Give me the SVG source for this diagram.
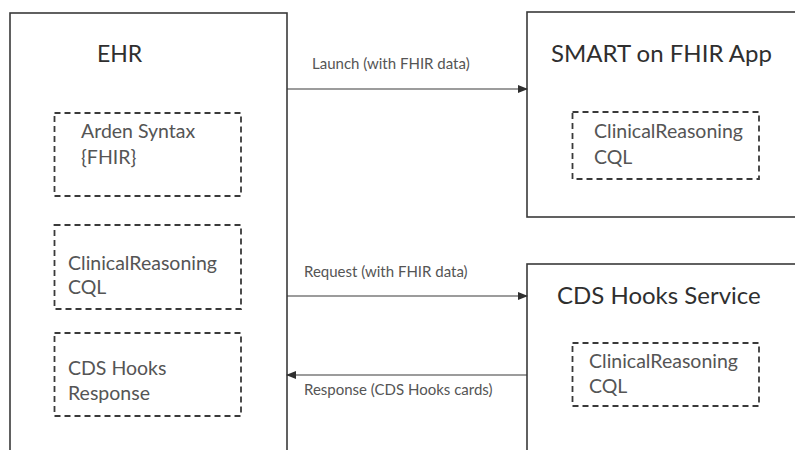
<svg xmlns="http://www.w3.org/2000/svg" width="795" height="450" viewBox="0 0 795 450">
  <style>
    .box { fill: #fff; stroke: #3a3a3a; stroke-width: 1.6; }
    .inner { fill: none; stroke: #3a3a3a; stroke-width: 1.8; stroke-dasharray: 6 4; }
    .title { font-family: Lato, "Open Sans", sans-serif; fill: #2f2f2f; font-size: 24px; }
    .item { font-family: Lato, "Open Sans", sans-serif; fill: #555; font-size: 19.5px; }
    .label { font-family: Lato, "Open Sans", sans-serif; fill: #555; font-size: 15px; }
    .link { stroke: #3a3a3a; stroke-width: 1.2; fill: none; }
  </style>
  <defs>
    <marker id="arrow" markerWidth="10" markerHeight="8" refX="9" refY="4" orient="auto" markerUnits="userSpaceOnUse">
      <path d="M0,0 L10,4 L0,8 Z" fill="#2f2f2f"/>
    </marker>
  </defs>
  <rect width="795" height="450" fill="#fff"/>

  <g id="ehr">
    <rect class="box" x="10" y="13" width="277" height="460"/>
    <text class="title" x="97" y="62" style="font-size:23px">EHR</text>
    <g id="ehr-arden">
      <rect class="inner" x="54.5" y="113" width="186.5" height="83"/>
      <text class="item" x="81" y="138">Arden Syntax</text>
      <text class="item" x="81" y="164">{FHIR}</text>
    </g>
    <g id="ehr-cql">
      <rect class="inner" x="54.5" y="225" width="186.5" height="84"/>
      <text class="item" x="68" y="270">ClinicalReasoning</text>
      <text class="item" x="68" y="294">CQL</text>
    </g>
    <g id="ehr-response">
      <rect class="inner" x="54.5" y="333" width="186.5" height="83"/>
      <text class="item" x="68" y="375">CDS Hooks</text>
      <text class="item" x="68" y="400">Response</text>
    </g>
  </g>

  <g id="smart">
    <rect class="box" x="527" y="12" width="280" height="205"/>
    <text class="title" x="551" y="62">SMART on FHIR App</text>
    <g id="smart-cql">
      <rect class="inner" x="572.5" y="112" width="186.5" height="67"/>
      <text class="item" x="594" y="138">ClinicalReasoning</text>
      <text class="item" x="594" y="164">CQL</text>
    </g>
  </g>

  <g id="cds">
    <rect class="box" x="527" y="264" width="280" height="210"/>
    <text class="title" x="557" y="304">CDS Hooks Service</text>
    <g id="cds-cql">
      <rect class="inner" x="572.5" y="343" width="186.5" height="63"/>
      <text class="item" x="589" y="368">ClinicalReasoning</text>
      <text class="item" x="589" y="393">CQL</text>
    </g>
  </g>

  <g id="connectors">
    <line class="link" x1="287" y1="89" x2="527" y2="89" marker-end="url(#arrow)"/>
    <text class="label" x="312" y="69">Launch (with FHIR data)</text>
    <line class="link" x1="287" y1="296" x2="527" y2="296" marker-end="url(#arrow)"/>
    <text class="label" x="304" y="277">Request (with FHIR data)</text>
    <line class="link" x1="527" y1="375" x2="287" y2="375" marker-end="url(#arrow)"/>
    <text class="label" x="304" y="395">Response (CDS Hooks cards)</text>
  </g>
</svg>
